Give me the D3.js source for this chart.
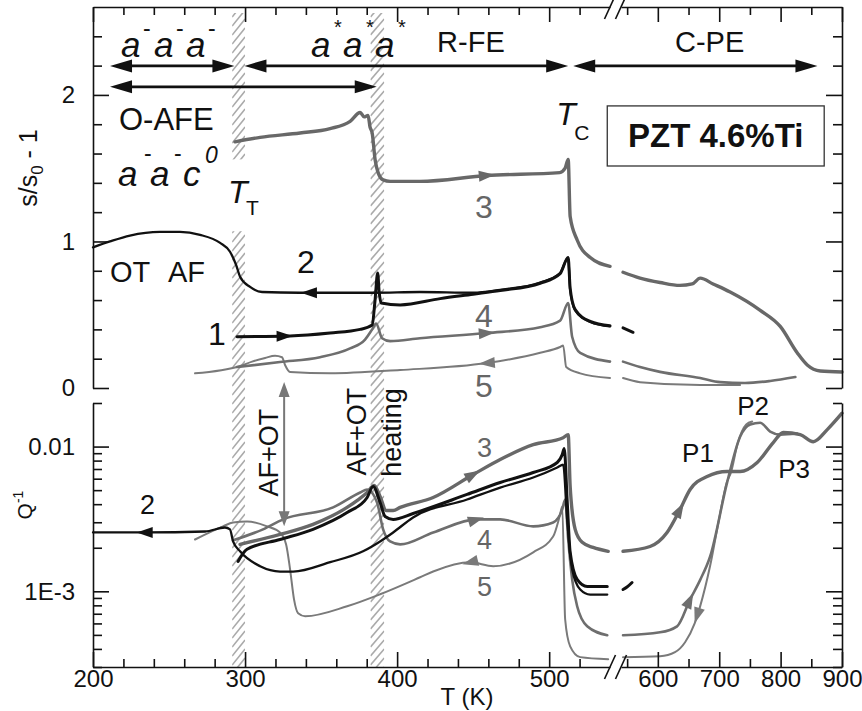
<!DOCTYPE html>
<html>
<head>
<meta charset="utf-8">
<script src="https://cdn.jsdelivr.net/npm/d3@7"></script>
<style>
body { margin: 0; background: #fff; }
svg text { font-family: "Liberation Sans", Arial, sans-serif; }
</style>
</head>
<body>
<svg id="chart" width="862" height="711"></svg>
<script>
// curves: [T (K), value]; top panel s/s0-1, bottom panel Q^-1
var c1Top = [[294.7,0.35],[329.6,0.355],[355.9,0.375],[375.7,0.40],[383.6,0.43],[385.5,0.60],[387.2,0.785],[388.2,0.655],[389.5,0.58],[402,0.567],[428.3,0.61],[450,0.64],[467.8,0.665],[494.1,0.715],[507.2,0.78],[512.5,0.89],[513.8,0.68],[517.1,0.535],[527,0.455],[540,0.425],[543.3,0.41],[559.6,0.38]];
var c2Top = [[200,0.96],[211.2,1.0],[224.3,1.04],[244,1.065],[257.2,1.065],[270.4,1.045],[283.6,0.99],[290.1,0.93],[294.1,0.84],[296.7,0.76],[303.3,0.69],[311.2,0.655],[336,0.65],[385,0.65],[415,0.655],[450,0.65],[467.8,0.67],[494.1,0.72],[507.2,0.785],[512.5,0.89],[513.8,0.67],[517.1,0.53],[527,0.45],[540,0.42]];
var c3Top = [[293.4,1.68],[309.9,1.71],[336.2,1.74],[355.9,1.77],[369.1,1.82],[375.7,1.88],[378.3,1.85],[380.9,1.86],[382.2,1.78],[383.6,1.74],[385.5,1.56],[387.5,1.47],[390.8,1.42],[395.4,1.41],[415,1.41],[459,1.45],[507,1.47],[510.5,1.50],[512.5,1.56],[513.8,1.17],[518.4,1.01],[527,0.89],[540,0.83],[543.3,0.79],[571,0.75],[603.6,0.72],[636,0.70],[656,0.71],[669,0.75],[690,0.71],[717.8,0.655],[766.8,0.53],[799.4,0.42],[827,0.24],[843.4,0.157],[864.6,0.116],[900,0.109]];
var c4Top = [[294.7,0.143],[323,0.177],[349.3,0.21],[369.1,0.27],[378.9,0.33],[383.6,0.40],[386.2,0.44],[390.1,0.34],[395.4,0.32],[415,0.34],[459,0.375],[494.1,0.415],[507.2,0.46],[512.5,0.58],[515.1,0.35],[520.4,0.24],[540,0.18],[543.3,0.18],[571,0.143],[603.6,0.11],[669,0.068],[701.5,0.04],[742,0.034],[783,0.048],[824,0.075]];
var c5Top = [[267.1,0.10],[296.7,0.15],[304.6,0.18],[313.2,0.205],[319.7,0.22],[324.3,0.21],[326.3,0.157],[329.6,0.11],[355.9,0.10],[402,0.123],[459,0.17],[494.1,0.24],[507.2,0.28],[509.2,0.29],[511.2,0.143],[520.4,0.10],[540,0.068],[543.3,0.068],[571,0.04],[669,0.02],[734,0.02]];

var c1Bot = [[295.4,1.61e-3],[301.3,1.95e-3],[323,2.28e-3],[344.7,2.68e-3],[367.1,3.5e-3],[380.3,4.45e-3],[384.2,5.3e-3],[388.8,4.11e-3],[392.1,3.29e-3],[397.4,3.14e-3],[410.5,3.45e-3],[446,4.67e-3],[467.8,5.65e-3],[489.5,6.62e-3],[505.3,7.76e-3],[508.6,8.8e-3],[509.9,9.7e-3],[511.8,4.31e-3],[513.8,1.86e-3],[518.4,1.21e-3],[525,1.08e-3],[538.2,1.08e-3],[543.3,1.03e-3],[549.8,1.07e-3],[558,1.15e-3]];
var c2Bot = [[200,2.55e-3],[234,2.55e-3],[273.7,2.59e-3],[286.8,2.76e-3],[290.1,2.68e-3],[292.1,2.21e-3],[296.7,1.89e-3],[309.9,1.49e-3],[323,1.37e-3],[331.6,1.37e-3],[356,1.59e-3],[377.6,1.89e-3],[388.8,2.21e-3],[397.4,2.55e-3],[410.5,3.24e-3],[446,4.31e-3],[467.8,5.21e-3],[489.5,6.11e-3],[505.3,7.17e-3],[509.2,7.51e-3],[511.8,3.14e-3],[515.1,1.42e-3],[520.4,1.03e-3],[527,9.5e-4],[538.2,9.5e-4]];
var c3Bot = [[296.7,2.11e-3],[323,2.47e-3],[344.7,2.9e-3],[367.1,3.8e-3],[380.3,4.82e-3],[384.9,5.38e-3],[388.8,4.52e-3],[392.8,3.62e-3],[397.4,3.62e-3],[402,3.8e-3],[423.7,4.45e-3],[450,6.41e-3],[467.8,8.14e-3],[489.5,1.03e-2],[509.2,1.15e-2],[512.5,1.21e-2],[513.8,5.3e-3],[517.1,2.68e-3],[521.7,2.18e-3],[528.9,2.01e-3],[538.8,1.89e-3],[543.3,1.89e-3],[587.3,2.04e-3],[615,2.55e-3],[636.2,3.68e-3],[652.6,5.05e-3],[680.3,6.21e-3],[712.9,6.72e-3],[734.1,6.72e-3],[761.9,7.76e-3],[788,1.066e-2],[804.3,1.25e-2],[832,1.21e-2],[853.2,1.08e-2],[876,1.31e-2],[900,1.7e-2]];
var c4Bot = [[292.1,2.25e-3],[311.8,2.68e-3],[325,3.14e-3],[357.9,3.8e-3],[375.7,4.82e-3],[380.3,5.05e-3],[386.8,4.11e-3],[390.8,2.68e-3],[395.4,2.21e-3],[402,2.11e-3],[423.7,2.55e-3],[452.6,3.14e-3],[467.8,3.14e-3],[489.5,2.81e-3],[502.6,2.99e-3],[508.6,3.68e-3],[510.5,4.31e-3],[512.5,2.28e-3],[515.1,1.21e-3],[518.4,7.88e-4],[525,5.73e-4],[538.2,4.97e-4],[543.3,4.97e-4],[603.6,5.21e-4],[631.4,5.73e-4],[652.6,8.8e-4],[669,1.2e-3],[685.2,1.74e-3],[712.9,5.66e-3],[734,1.17e-2],[750.5,1.42e-2],[766.8,1.46e-2],[783,1.27e-2],[799.4,1.21e-2],[827,1.23e-2]];
var c5Bot = [[267.1,2.28e-3],[285.5,2.81e-3],[292.1,2.99e-3],[301.3,3.04e-3],[314.5,2.81e-3],[323,2.55e-3],[327,2.11e-3],[329.6,1.42e-3],[332.2,8.8e-4],[334.9,7.05e-4],[339.5,6.72e-4],[367.1,7.88e-4],[388.8,9.54e-4],[415.1,1.25e-3],[423.7,1.37e-3],[448,1.585e-3],[463.2,1.49e-3],[489.5,1.86e-3],[502.6,2.39e-3],[507.2,3.4e-3],[508.6,3.86e-3],[510.5,6.41e-4],[513.8,4.17e-4],[520.4,3.51e-4],[538.8,3.4e-4],[543.3,3.51e-4],[603.6,3.56e-4],[628,3.8e-4],[644.4,4.45e-4],[660,6.0e-4],[669,7.9e-4],[685.2,1.5e-3],[700,3.2e-3],[712,5.6e-3],[719,6.6e-3],[730,1.05e-2],[744,1.42e-2],[753.7,1.49e-2]];

// axis ticks
var xMajorL = [200, 300, 400, 500], xMajorR = [600, 700, 800, 900];
var xMinorL = [220, 240, 260, 280, 320, 340, 360, 380, 420, 440, 460, 480, 520], xMinorR = [550, 650, 750, 850];
var sMajor = [0, 1, 2], sMinor = [0.2, 0.4, 0.6, 0.8, 1.2, 1.4, 1.6, 1.8, 2.2, 2.4];
var qMajor = [1e-3, 1e-2], qLabels = ["1E-3", "0.01"];
var qMinor = [3e-4, 4e-4, 5e-4, 6e-4, 7e-4, 8e-4, 9e-4, 2e-3, 3e-3, 4e-3, 5e-3, 6e-3, 7e-3, 8e-3, 9e-3, 2e-2];
var bandsT = [[291.5, 300], [382.5, 391.5]];

var svg = d3.select("#chart");
var xL = d3.scaleLinear().domain([200, 540]).range([93, 610]);
var xR = d3.scaleLinear().domain([540, 900]).range([621, 842]);
function X(t) { return t <= 540 ? xL(t) : xR(t); }
var yTop = d3.scaleLinear().domain([0, 2.6]).range([388, 7]);
var yBot = d3.scaleLog().domain([3e-4, 0.02]).range([667, 403]);

var BLACK = "#111", G3 = "#686868", G4 = "#6e6e6e", G5 = "#7a7a7a";

// hatched bands
var defs = svg.append("defs");
bandsT.forEach(function(b, i) {
  var x0 = X(b[0]), x1 = X(b[1]);
  defs.append("clipPath").attr("id", "band" + i)
    .append("rect").attr("x", x0).attr("y", 13).attr("width", x1 - x0).attr("height", 654);
  var g = svg.append("g").attr("clip-path", "url(#band" + i + ")");
  for (var y = 0; y < 700; y += 9) {
    g.append("line").attr("x1", x0).attr("y1", y + 8).attr("x2", x1).attr("y2", y - 8)
      .attr("stroke", "#aaa").attr("stroke-width", 1.6);
  }
});
// gap under T_T label
svg.append("rect").attr("x", X(291.5) - 1).attr("y", yTop(1.56))
  .attr("width", X(300) - X(291.5) + 2).attr("height", yTop(1.07) - yTop(1.56)).attr("fill", "#fff");

// curves
var line = d3.line().curve(d3.curveMonotoneX);
function toPx(data, yS) {
  return [data.filter(function(d) { return d[0] <= 540; }), data.filter(function(d) { return d[0] > 540; })]
    .filter(function(s) { return s.length > 1; })
    .map(function(s) { return s.map(function(d) { return [X(d[0]), yS(d[1])]; }); });
}
function drawCurve(data, yS, color, w) {
  var segs = toPx(data, yS);
  segs.forEach(function(s) {
    svg.append("path").attr("d", line(s)).attr("fill", "none").attr("stroke", color)
      .attr("stroke-width", w).attr("stroke-linejoin", "round").attr("stroke-linecap", "round");
  });
  return segs;
}
function arrowOn(segs, t, dir, color) {
  var px = X(t);
  var s = segs.find(function(p) { return p[0][0] <= px && p[p.length - 1][0] >= px; });
  var i = d3.bisector(function(d) { return d[0]; }).left(s, px);
  i = Math.max(1, Math.min(s.length - 1, i));
  var a = s[i - 1], b = s[i];
  var f = (px - a[0]) / (b[0] - a[0]);
  var py = a[1] + f * (b[1] - a[1]);
  var ang = Math.atan2(b[1] - a[1], b[0] - a[0]) * 180 / Math.PI + (dir < 0 ? 180 : 0);
  svg.append("path").attr("d", "M8,0L-8,-5.5L-8,5.5Z")
    .attr("transform", "translate(" + px + "," + py + ") rotate(" + ang + ")").attr("fill", color);
}

var s5t = drawCurve(c5Top, yTop, G5, 2);
var s4t = drawCurve(c4Top, yTop, G4, 2.6);
var s3t = drawCurve(c3Top, yTop, G3, 3.4);
var s2t = drawCurve(c2Top, yTop, BLACK, 2.3);
var s1t = drawCurve(c1Top, yTop, BLACK, 3);
var s5b = drawCurve(c5Bot, yBot, G5, 2);
var s4b = drawCurve(c4Bot, yBot, G4, 2.6);
var s3b = drawCurve(c3Bot, yBot, G3, 3.4);
var s2b = drawCurve(c2Bot, yBot, BLACK, 2.3);
var s1b = drawCurve(c1Bot, yBot, BLACK, 3);

arrowOn(s3t, 459, 1, G3); arrowOn(s2t, 342, -1, BLACK); arrowOn(s1t, 326, 1, BLACK);
arrowOn(s4t, 459, 1, G4); arrowOn(s5t, 459, -1, G5);
arrowOn(s2b, 234, -1, BLACK); arrowOn(s3b, 450, 1, G3); arrowOn(s4b, 452, 1, G4); arrowOn(s5b, 448, -1, G5);
arrowOn(s3b, 636, 1, G3); arrowOn(s4b, 652, 1, G4); arrowOn(s5b, 664, -1, G5);

// axes
function styleAxis(g) {
  g.attr("font-size", 24).attr("font-family", "Liberation Sans, Arial, sans-serif");
  g.selectAll("path,line").attr("stroke", BLACK).attr("stroke-width", 1.6);
  g.selectAll("text").attr("fill", BLACK);
}
function noDomain(g) { g.select(".domain").remove(); }
[[xL, xMajorL, xMinorL], [xR, xMajorR, xMinorR]].forEach(function(a) {
  svg.append("g").attr("transform", "translate(0,667)")
    .call(d3.axisBottom(a[0]).tickValues(a[1]).tickSize(-15).tickSizeOuter(0).tickPadding(3).tickFormat(d3.format("d")))
    .call(styleAxis);
  svg.append("g").attr("transform", "translate(0,667)")
    .call(d3.axisBottom(a[0]).tickValues(a[2]).tickSize(-8).tickFormat("")).call(noDomain).call(styleAxis);
  svg.append("g").attr("transform", "translate(0,7)")
    .call(d3.axisTop(a[0]).tickValues(a[1]).tickSize(-15).tickSizeOuter(0).tickFormat(""))
    .call(styleAxis);
  svg.append("g").attr("transform", "translate(0,7)")
    .call(d3.axisTop(a[0]).tickValues(a[2]).tickSize(-8).tickFormat("")).call(noDomain).call(styleAxis);
});
svg.append("g").attr("transform", "translate(93,0)")
  .call(d3.axisLeft(yTop).tickValues(sMajor).tickSize(-16).tickSizeOuter(0).tickPadding(18).tickFormat(d3.format("d")))
  .call(styleAxis);
svg.append("g").attr("transform", "translate(93,0)")
  .call(d3.axisLeft(yTop).tickValues(sMinor).tickSize(-9).tickFormat("")).call(noDomain).call(styleAxis);
svg.append("g").attr("transform", "translate(842,0)")
  .call(d3.axisRight(yTop).tickValues(sMajor).tickSize(-16).tickSizeOuter(0).tickFormat(""))
  .call(styleAxis);
svg.append("g").attr("transform", "translate(842,0)")
  .call(d3.axisRight(yTop).tickValues(sMinor).tickSize(-9).tickFormat("")).call(noDomain).call(styleAxis);
svg.append("g").attr("transform", "translate(93,0)")
  .call(d3.axisLeft(yBot).tickValues(qMajor).tickSize(-16).tickSizeOuter(0).tickPadding(18)
    .tickFormat(function(d, i) { return qLabels[i]; }))
  .call(styleAxis);
svg.append("g").attr("transform", "translate(93,0)")
  .call(d3.axisLeft(yBot).tickValues(qMinor).tickSize(-9).tickFormat("")).call(noDomain).call(styleAxis);
svg.append("g").attr("transform", "translate(842,0)")
  .call(d3.axisRight(yBot).tickValues(qMajor).tickSize(-16).tickSizeOuter(0).tickFormat(""))
  .call(styleAxis);
svg.append("g").attr("transform", "translate(842,0)")
  .call(d3.axisRight(yBot).tickValues(qMinor).tickSize(-9).tickFormat("")).call(noDomain).call(styleAxis);

// axis break marks
[7, 667].forEach(function(y) {
  [xL.range()[1], xR.range()[0]].forEach(function(xc) {
    svg.append("line").attr("x1", xc - 5.5).attr("y1", y + 12).attr("x2", xc + 5.5).attr("y2", y - 12)
      .attr("stroke", BLACK).attr("stroke-width", 1.6);
  });
});

// text helper
function label(x, y, s, o) {
  o = o || {};
  var t = svg.append("text").attr("x", x).attr("y", y).text(s)
    .attr("font-size", o.size || 24).attr("fill", o.fill || BLACK);
  if (o.italic) t.attr("font-style", "italic");
  if (o.bold) t.attr("font-weight", "bold");
  if (o.anchor) t.attr("text-anchor", o.anchor);
  if (o.rotate) t.attr("text-anchor", "middle").attr("dy", "0.36em")
    .attr("transform", "rotate(-90," + x + "," + y + ")");
  return t;
}

// phase range arrows
function hArrow(t0, t1, s) {
  var xa = X(t0), xb = X(t1), y = yTop(s), h = 22, k = 6.5;
  svg.append("line").attr("x1", xa + h - 2).attr("x2", xb - h + 2).attr("y1", y).attr("y2", y)
    .attr("stroke", BLACK).attr("stroke-width", 2.6);
  svg.append("path").attr("fill", BLACK)
    .attr("d", "M" + xa + "," + y + "L" + (xa + h) + "," + (y - k) + "L" + (xa + h) + "," + (y + k) + "Z" +
               "M" + xb + "," + y + "L" + (xb - h) + "," + (y - k) + "L" + (xb - h) + "," + (y + k) + "Z");
}
hArrow(211.2, 293, 2.198);
hArrow(299.6, 512.5, 2.198);
hArrow(515.8, 860, 2.198);
hArrow(211.2, 386.6, 2.055);

// vertical AF+OT arrow
(function() {
  var x = X(325.7), y0 = yTop(0.041), y1 = yBot(2.81e-3), h = 15, k = 5.5;
  svg.append("line").attr("x1", x).attr("x2", x).attr("y1", y0 + h - 2).attr("y2", y1 - h + 2)
    .attr("stroke", "#777").attr("stroke-width", 2);
  svg.append("path").attr("fill", "#777")
    .attr("d", "M" + x + "," + y0 + "L" + (x - k) + "," + (y0 + h) + "L" + (x + k) + "," + (y0 + h) + "Z" +
               "M" + x + "," + y1 + "L" + (x - k) + "," + (y1 - h) + "L" + (x + k) + "," + (y1 - h) + "Z");
})();

// phase labels, top
var ax = X(218.4), ay = yTop(2.26);
[0, 33, 65].forEach(function(dx) {
  label(ax + dx, ay, "a", {size: 35, italic: true});
  label(ax + dx + 22, ay - 21, "-", {size: 23});
});
var bx = X(343.4);
[0, 32, 64].forEach(function(dx) {
  label(bx + dx, ay, "a", {size: 35, italic: true});
  label(bx + dx + 23, ay - 23, "*", {size: 20});
});
label(X(426.3), yTop(2.293), "R-FE", {size: 29});
label(X(628), yTop(2.293), "C-PE", {size: 29});
label(X(217.1), yTop(1.761), "O-AFE", {size: 31});
var cx = X(216.4), cy = yTop(1.379);
label(cx, cy, "a", {size: 35, italic: true});
label(cx + 26, cy - 25, "-", {size: 23});
label(cx + 32, cy, "a", {size: 35, italic: true});
label(cx + 56, cy - 25, "-", {size: 23});
label(cx + 65, cy, "c", {size: 35, italic: true});
label(cx + 87, cy - 23, "0", {size: 23, italic: true});

label(X(288.8), yTop(1.263), "T", {size: 32, italic: true});
label(X(288.8) + 18, yTop(1.263) + 12, "T", {size: 21});
label(X(504.6), yTop(1.795), "T", {size: 32, italic: true});
label(X(504.6) + 18, yTop(1.795) + 15, "C", {size: 21});

svg.append("rect").attr("x", X(538.2)).attr("y", yTop(1.925))
  .attr("width", X(871) - X(538.2)).attr("height", yTop(1.515) - yTop(1.925))
  .attr("fill", "none").attr("stroke", "#333").attr("stroke-width", 1.3);
label((X(538.2) + X(871)) / 2, yTop(1.645), "PZT 4.6%Ti", {size: 33, bold: true, anchor: "middle"});

label(X(451.3), yTop(1.16), "3", {size: 32, fill: "#666"});
label(X(451.3), yTop(0.416), "4", {size: 32, fill: "#666"});
label(X(451.3), yTop(-0.061), "5", {size: 32, fill: "#666"});
label(X(334.2), yTop(0.785), "2", {size: 32});
label(X(275.7), yTop(0.2935), "1", {size: 32});
label(X(211.2), yTop(0.724), "OT", {size: 29});
label(X(211.2) + 58, yTop(0.724), "AF", {size: 29});

// bottom labels
label(X(315.1), yBot(9.09e-3), "AF+OT", {size: 27, rotate: true});
label(X(373), yBot(1.27e-2), "AF+OT", {size: 27, rotate: true});
label(X(396), yBot(1.25e-2), "heating", {size: 27, rotate: true});
label(X(452.6), yBot(8.53e-3), "3", {size: 27, fill: "#666"});
label(X(452.6), yBot(1.95e-3), "4", {size: 27, fill: "#666"});
label(X(452.6), yBot(9.25e-4), "5", {size: 27, fill: "#666"});
label(X(230.9), yBot(3.4e-3), "2", {size: 27});
label(X(639.5), yBot(7.88e-3), "P1", {size: 26});
label(X(729.2), yBot(1.66e-2), "P2", {size: 26});
label(X(796), yBot(6.11e-3), "P3", {size: 26});

// axis titles
label(X(446), 705, "T (K)", {size: 24, anchor: "middle"});
var ty = svg.append("text").attr("transform", "translate(37,168) rotate(-90)")
  .attr("text-anchor", "middle").attr("font-size", 25).attr("fill", BLACK);
ty.append("tspan").text("s/s");
ty.append("tspan").text("0").attr("font-size", 17).attr("dy", 6);
ty.append("tspan").text(" - 1").attr("dy", -6);
var tq = svg.append("text").attr("transform", "translate(32,505) rotate(-90)")
  .attr("text-anchor", "middle").attr("font-size", 21).attr("fill", BLACK);
tq.append("tspan").text("Q");
tq.append("tspan").text("-1").attr("font-size", 14).attr("dy", -9);
</script>
</body>
</html>
